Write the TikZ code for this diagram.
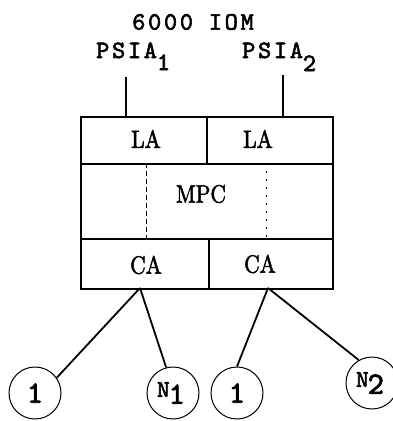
\documentclass[tikz,border=0pt]{standalone}
\usepackage{fontspec}
\newfontfamily\twfont{lmmono10-regular}[Extension=.otf, LetterSpace=11, FakeBold=2.5]
\newfontfamily\twplain{lmmono10-regular}[Extension=.otf, FakeBold=2.5]
\newfontfamily\labfont{lmroman10-regular}[Extension=.otf, FakeBold=2, FakeStretch=0.86]
\begin{document}
\begin{tikzpicture}[x=1pt,y=-1pt,
  cell/.style={draw, line width=1.8pt, inner sep=0pt, anchor=north west},
  tw/.style={font=\fontsize{25}{25}\selectfont\twfont, inner sep=0pt},
  lab/.style={font=\fontsize{25}{25}\selectfont\labfont, inner sep=0pt},
  term/.style={circle, draw, line width=1pt, minimum size=52pt, inner sep=0pt,
    font=\fontsize{31}{31}\selectfont\twplain},
  link/.style={line width=1.8pt},
  split/.style={line width=0.9pt, dash pattern=on 5pt off 3pt}]
\useasboundingbox (0,0) rectangle (392,421);
% cells
\node[cell, minimum width=126pt, minimum height=47pt] (la1) at (80,116) {};
\node[cell, minimum width=126pt, minimum height=47pt] (la2) at (206,116) {};
\node[cell, minimum width=252pt, minimum height=75pt] (mpc) at (80,163) {};
\node[cell, minimum width=128pt, minimum height=50pt] (ca1) at (80,238) {};
\node[cell, minimum width=124pt, minimum height=50pt] (ca2) at (208,238) {};
\draw[split] (146,163) -- (146,238);
\draw[split, dash pattern=on 2pt off 6pt] (266,163) -- (266,238);
% labels
\node[lab] (tla1) at (146,139) {LA};
\node[lab] (tla2) at (258,139) {LA};
\node[lab] (tmpc) at (201,194) {MPC};
\node[lab] (tca1) at (146,265) {CA};
\node[lab] (tca2) at (260,264) {CA};
% top texts
\node[tw] (iom) at (193,22) {6000 IOM};
\node[tw, anchor=base west] (psia1) at (96,58) {PSIA\raisebox{-12pt}{1}};
\node[tw, anchor=base west] (psia2) at (242,58) {PSIA\raisebox{-13pt}{2}};
\coordinate (p1top) at (126,77);
\coordinate (p1bot) at (126,116);
\coordinate (p2top) at (283,75);
\coordinate (p2bot) at (283,116);
\draw[link] (p1top) -- (p1bot);
\draw[link] (p2top) -- (p2bot);
% terminals
\node[term] (c1) at (35,393) {1};
\node[term] (n1) at (173,393) {\raisebox{7pt}{\fontsize{24}{24}\selectfont N}\kern-1pt 1\kern4pt};
\node[term] (c2) at (237,393) {1};
\node[term] (n2) at (372,383) {\raisebox{7pt}{\fontsize{24}{24}\selectfont N}\kern-1pt 2\kern4pt};
\coordinate (ca1pt) at (140,288);
\coordinate (ca2pt) at (268,288);
\draw[link] (ca1pt) -- (c1.35);
\draw[link] (ca1pt) -- (n1.105);
\draw[link] (ca2pt) -- (c2.north);
\draw[link] (ca2pt) -- (n2.120);
\end{tikzpicture}
\end{document}
